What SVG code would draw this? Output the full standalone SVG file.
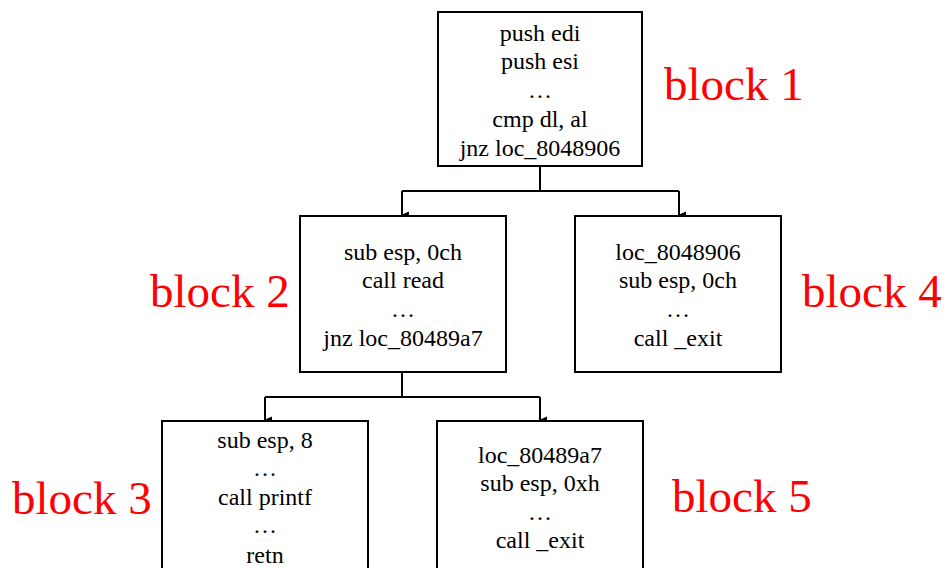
<svg xmlns="http://www.w3.org/2000/svg" width="946" height="568" viewBox="0 0 946 568">
  <defs>
    <marker id="arrow" markerWidth="8" markerHeight="8" refX="4" refY="7" orient="auto" markerUnits="userSpaceOnUse" viewBox="0 0 8 8">
      <path d="M0.5,0 L7.5,0 L4,8 Z" fill="#000"/>
    </marker>
    <style>
      .box { fill: #fff; stroke: #000; stroke-width: 2; }
      .code { font-family: "Liberation Serif", "Times New Roman", serif; font-size: 24px; fill: #000; text-anchor: middle; }
      .tag { font-family: "Liberation Serif", "Times New Roman", serif; font-size: 47px; fill: #ff0000; }
      .edge { fill: none; stroke: #000; stroke-width: 2; }
    </style>
  </defs>
  <rect width="946" height="568" fill="#fff"/>

  <!-- connectors -->
  <g id="connectors">
    <path class="edge" d="M540,167 V191"/>
    <path class="edge" d="M402,191 H679"/>
    <path class="edge" d="M402,191 V215" marker-end="url(#arrow)"/>
    <path class="edge" d="M679,191 V215" marker-end="url(#arrow)"/>
    <path class="edge" d="M402,372 V397"/>
    <path class="edge" d="M265,397 H540"/>
    <path class="edge" d="M265,397 V420" marker-end="url(#arrow)"/>
    <path class="edge" d="M540,397 V420" marker-end="url(#arrow)"/>
  </g>

  <g id="block1">
    <rect class="box" x="438" y="12" width="204" height="154"/>
    <text class="code" x="540" y="41">push edi</text>
    <text class="code" x="540" y="69">push esi</text>
    <text class="code" x="540" y="98">…</text>
    <text class="code" x="540" y="127">cmp dl, al</text>
    <text class="code" x="540" y="156">jnz loc_8048906</text>
  </g>

  <g id="block2">
    <rect class="box" x="300" y="216" width="206" height="156"/>
    <text class="code" x="403" y="260">sub esp, 0ch</text>
    <text class="code" x="403" y="288">call read</text>
    <text class="code" x="403" y="317">…</text>
    <text class="code" x="403" y="346">jnz loc_80489a7</text>
  </g>

  <g id="block4">
    <rect class="box" x="575" y="216" width="206" height="156"/>
    <text class="code" x="678" y="260">loc_8048906</text>
    <text class="code" x="678" y="288">sub esp, 0ch</text>
    <text class="code" x="678" y="317">…</text>
    <text class="code" x="678" y="346">call _exit</text>
  </g>

  <g id="block3">
    <rect class="box" x="162" y="421" width="206" height="160"/>
    <text class="code" x="265" y="448">sub esp, 8</text>
    <text class="code" x="265" y="476">…</text>
    <text class="code" x="265" y="505">call printf</text>
    <text class="code" x="265" y="533">…</text>
    <text class="code" x="265" y="563">retn</text>
  </g>

  <g id="block5">
    <rect class="box" x="437" y="421" width="206" height="160"/>
    <text class="code" x="540" y="463">loc_80489a7</text>
    <text class="code" x="540" y="491">sub esp, 0xh</text>
    <text class="code" x="540" y="520">…</text>
    <text class="code" x="540" y="548">call _exit</text>
  </g>

  <!-- block labels -->
  <g id="labels">
    <text class="tag" x="664" y="100">block 1</text>
    <text class="tag" x="150" y="307">block 2</text>
    <text class="tag" x="802" y="307">block 4</text>
    <text class="tag" x="12" y="514">block 3</text>
    <text class="tag" x="672" y="512">block 5</text>
  </g>
</svg>
